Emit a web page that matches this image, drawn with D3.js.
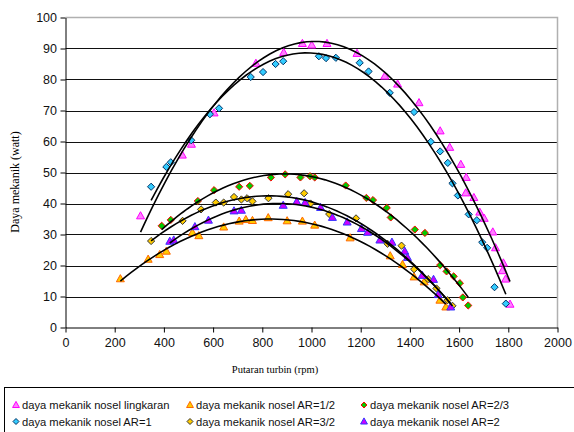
<!DOCTYPE html>
<html>
<head>
<meta charset="utf-8">
<script src="https://cdn.jsdelivr.net/npm/d3@7"></script>
<style>
	body { margin: 0; background: #fff; }
	svg { display: block; }
</style>
</head>
<body>
<svg id="chart" width="574" height="432"></svg>
<script>
// rpm, watt pairs
var lingkaran = [[305,36.0],[475,55.6],[512,59.1],[604,69.2],[774,85.2],[887,88.7],[963,91.6],[1001,91.1],[1063,91.6],
	[1185,88.4],[1298,81.1],[1350,78.5],[1437,72.5],[1523,63.4],[1562,58.1],[1607,52.6],[1629,48.4],[1627,43.4],
	[1660,41.9],[1684,37.2],[1702,35.2],[1737,30.8],[1748,25.7],[1780,20.8],[1776,18.3],[1789,15.6],[1807,7.5]];
var ar12 = [[223,15.7],[336,22.0],[383,23.5],[410,24.6],[516,30.6],[542,29.6],[643,32.4],[706,34.3],[733,34.8],
	[760,34.5],[824,35.4],[901,34.4],[963,34.3],[1013,33.0],[1157,28.9],[1320,23.1],[1370,20.3],[1417,16.3],
	[1458,14.7],[1522,8.8],[1546,6.6]];
var ar23 = [[391,32.8],[428,34.7],[538,40.8],[604,44.3],[706,45.4],[749,45.7],[835,48.4],[893,49.4],[955,48.4],
	[994,48.8],[1013,48.4],[1139,45.8],[1223,41.8],[1250,41.1],[1306,38.6],[1322,35.5],[1420,31.6],[1461,30.5],
	[1523,20.1],[1549,18.1],[1578,16.5],[1603,14.3],[1615,9.7],[1637,7.1]];
var ar1 = [[348,45.4],[410,51.8],[428,53.3],[511,60.4],[587,68.8],[624,70.7],[753,80.8],[803,82.4],[854,85.0],
	[885,85.9],[1030,87.5],[1059,86.9],[1099,87.0],[1196,85.4],[1232,82.6],[1318,75.7],[1417,69.5],[1485,59.9],
	[1523,56.8],[1554,53.1],[1573,46.5],[1595,42.6],[1639,36.5],[1672,34.6],[1694,27.5],[1714,25.7],[1744,13.0],
	[1790,7.7]];
var ar32 = [[348,27.9],[476,34.4],[551,38.1],[611,40.3],[643,40.3],[685,42.1],[715,41.3],[738,41.7],[760,40.7],
	[825,41.7],[905,43.0],[970,43.3],[996,40.0],[1072,36.6],[1181,35.2],[1309,27.0],[1366,26.4],[1417,18.8],
	[1474,15.6],[1508,12.6],[1553,8.8],[1573,7.0]];
var ar2 = [[424,27.8],[440,28.2],[526,32.5],[581,34.6],[685,37.6],[715,37.8],[885,39.4],[940,40.6],[974,40.3],
	[1037,38.7],[1085,35.5],[1145,34.0],[1203,31.9],[1228,30.7],[1278,28.2],[1327,27.5],[1379,24.6],[1390,22.6],
	[1450,16.8],[1496,15.5],[1515,10.6],[1566,6.6]];

var seriesNames = ["daya mekanik nosel lingkaran", "daya mekanik nosel AR=1/2", "daya mekanik nosel AR=2/3",
	"daya mekanik nosel AR=1", "daya mekanik nosel AR=3/2", "daya mekanik nosel AR=2"];
var seriesData = [lingkaran, ar12, ar23, ar1, ar32, ar2];
var xTicks = [0, 200, 400, 600, 800, 1000, 1200, 1400, 1600, 1800, 2000];
var yTicks = [0, 10, 20, 30, 40, 50, 60, 70, 80, 90, 100];

// marker look per series
var markers = [
	{ shape: "tri", fill: "#ff80ff", stroke: "#ff00ff" },
	{ shape: "tri", fill: "#ffcc00", stroke: "#ff6600" },
	{ shape: "dia", fill: "#00cc00", stroke: "#ff0000" },
	{ shape: "dia", fill: "#33ccff", stroke: "#003366" },
	{ shape: "dia", fill: "#ffcc00", stroke: "#333333" },
	{ shape: "tri", fill: "#cc00ff", stroke: "#3333ff" }
];

var svg = d3.select("#chart"),
	margin = { top: 17.5, right: 16.5, bottom: 104.5, left: 65.5 },
	width = +svg.attr("width") - margin.left - margin.right,
	height = +svg.attr("height") - margin.top - margin.bottom;

var x = d3.scaleLinear().domain([0, 2000]).range([margin.left, margin.left + width]);
var y = d3.scaleLinear().domain([0, 100]).range([margin.top + height, margin.top]);

// gridlines
svg.append("g").selectAll("line").data(yTicks.slice(1, -1))
	.enter().append("line")
		.attr("x1", x(0)).attr("x2", x(2000))
		.attr("y1", function(d) { return Math.round(y(d)) + 0.5; })
		.attr("y2", function(d) { return Math.round(y(d)) + 0.5; })
		.attr("stroke", "#111").attr("stroke-width", 1);

// plot border (top/right grey)
svg.append("path")
	.attr("d", "M" + x(0) + "," + y(100) + "H" + x(2000) + "V" + y(0))
	.attr("fill", "none").attr("stroke", "#b0b0b0").attr("stroke-width", 1.5);

// axes
var xAxis = d3.axisBottom(x).tickValues(xTicks).tickFormat(d3.format("d")).tickSize(5).tickSizeOuter(0);
var yAxis = d3.axisLeft(y).tickValues(yTicks).tickFormat(d3.format("d")).tickSize(5).tickSizeOuter(0);

var gx = svg.append("g").attr("transform", "translate(0," + y(0) + ")").call(xAxis);
var gy = svg.append("g").attr("transform", "translate(" + x(0) + ",0)").call(yAxis);

[gx, gy].forEach(function(g) {
	g.selectAll("path, line").attr("stroke", "#000");
	g.selectAll("text")
		.attr("fill", "#111")
		.attr("font-family", "Liberation Sans, Arial, sans-serif")
		.attr("font-size", "12.5px");
});
gx.selectAll("text").attr("y", 11);
gy.selectAll("text").attr("x", -8.5);

// axis titles
svg.append("text")
	.attr("x", 275).attr("y", 373)
	.attr("text-anchor", "middle")
	.attr("font-family", "Liberation Serif, Times New Roman, serif")
	.attr("font-size", "10.5px")
	.text("Putaran turbin (rpm)");

svg.append("text")
	.attr("transform", "translate(19,182) rotate(-90)")
	.attr("text-anchor", "middle")
	.attr("font-family", "Liberation Serif, Times New Roman, serif")
	.attr("font-size", "12px")
	.text("Daya mekanik (watt)");

function markerPath(shape, r) {
	if (shape === "tri") {
		return "M0," + (-r) + "L" + (r * 0.95) + "," + (r * 0.7) + "L" + (-r * 0.95) + "," + (r * 0.7) + "Z";
	}
	return "M0," + (-r) + "L" + r + ",0L0," + r + "L" + (-r) + ",0Z";
}

// points
var pts = svg.append("g");
seriesData.forEach(function(data, i) {
	var m = markers[i];
	pts.append("g").selectAll("path").data(data)
		.enter().append("path")
			.attr("transform", function(d) { return "translate(" + x(d[0]) + "," + y(d[1]) + ")"; })
			.attr("d", markerPath(m.shape, m.shape === "tri" ? 4.2 : 3.6))
			.attr("fill", m.fill)
			.attr("stroke", m.stroke)
			.attr("stroke-width", 1);
});

// 2nd order polynomial trendline, least squares
function polyFit2(data) {
	var n = data.length, sx = 0, sx2 = 0, sx3 = 0, sx4 = 0, sy = 0, sxy = 0, sx2y = 0;
	data.forEach(function(d) {
		var t = d[0] / 1000, v = d[1];
		sx += t; sx2 += t * t; sx3 += t * t * t; sx4 += t * t * t * t;
		sy += v; sxy += t * v; sx2y += t * t * v;
	});
	var A = [[n, sx, sx2, sy], [sx, sx2, sx3, sxy], [sx2, sx3, sx4, sx2y]];
	for (var c = 0; c < 3; c++) {
		for (var r = c + 1; r < 3; r++) {
			var f = A[r][c] / A[c][c];
			for (var k = c; k < 4; k++) { A[r][k] -= f * A[c][k]; }
		}
	}
	var coef = [0, 0, 0];
	for (var r = 2; r >= 0; r--) {
		var s = A[r][3];
		for (var k = r + 1; k < 3; k++) { s -= A[r][k] * coef[k]; }
		coef[r] = s / A[r][r];
	}
	return function(rpm) { var t = rpm / 1000; return coef[0] + coef[1] * t + coef[2] * t * t; };
}

var line = d3.line()
	.x(function(d) { return x(d[0]); })
	.y(function(d) { return y(d[1]); });

var trends = svg.append("g");
seriesData.forEach(function(data) {
	var f = polyFit2(data);
	var ext = d3.extent(data, function(d) { return d[0]; });
	var samples = d3.range(0, 61).map(function(i) {
		var r = ext[0] + (ext[1] - ext[0]) * i / 60;
		return [r, f(r)];
	});
	trends.append("path")
		.attr("d", line(samples))
		.attr("fill", "none")
		.attr("stroke", "#000")
		.attr("stroke-width", 1.6);
});

// legend
var lg = svg.append("g");
lg.append("rect")
	.attr("x", 4.5).attr("y", 387.5)
	.attr("width", 575).attr("height", 50)
	.attr("fill", "#fff").attr("stroke", "#000").attr("stroke-width", 1);

var colX = [16, 190, 364];
var rowY = [405, 421.5];
seriesNames.forEach(function(name, i) {
	var cx = colX[i % 3], cy = rowY[Math.floor(i / 3)];
	var m = markers[i];
	lg.append("path")
		.attr("transform", "translate(" + cx + "," + cy + ")")
		.attr("d", markerPath(m.shape, m.shape === "tri" ? 3.6 : 3))
		.attr("fill", m.fill).attr("stroke", m.stroke).attr("stroke-width", 1);
	lg.append("text")
		.attr("x", cx + 6).attr("y", cy + 4)
		.attr("font-family", "Liberation Sans, Arial, sans-serif")
		.attr("font-size", "11.2px")
		.attr("fill", "#111")
		.text(name);
});
</script>
</body>
</html>
